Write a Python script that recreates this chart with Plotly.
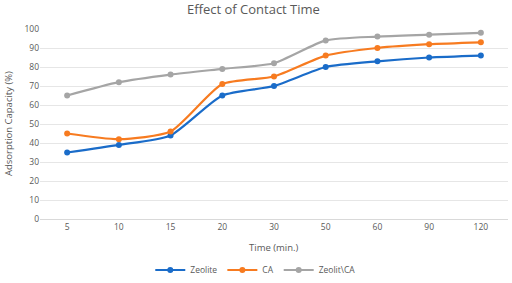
import plotly.graph_objects as go

categories = ["5", "10", "15", "20", "30", "50", "60", "90", "120"]
zeolite = [35, 39, 44, 65, 70, 80, 83, 85, 86]
ca = [45, 42, 46, 71, 75, 86, 90, 92, 93]
zeolit_ca = [65, 72, 76, 79, 82, 94, 96, 97, 98]

series = [
    ("Zeolite", zeolite, "#1A6CC9"),
    ("CA", ca, "#F77B20"),
    ("Zeolit\\CA", zeolit_ca, "#A5A5A5"),
]

fig = go.Figure()
for name, vals, color in series:
    fig.add_trace(go.Scatter(
        x=categories, y=vals, name=name, mode="lines+markers",
        line=dict(color=color, width=2.2, shape="spline", smoothing=0.6),
        marker=dict(color=color, size=6),
    ))

font = "Open Sans, Calibri, sans-serif"
W, H = 512, 283
L, R, T, B = 40, 4, 29, 64
fig.update_layout(
    width=W, height=H,
    margin=dict(l=L, r=R, t=T, b=B, autoexpand=False),
    paper_bgcolor="white", plot_bgcolor="white",
    title=dict(text="Effect of Contact Time", x=0.495, xanchor="center",
               xref="container", y=1 - 9 / H, yanchor="middle",
               font=dict(family=font, size=13, color="#595959")),
    font=dict(family=font, size=9, color="#595959"),
    xaxis=dict(type="category", showgrid=False, showline=True, linecolor="#D9D9D9",
               ticks="", automargin=False, tickfont=dict(size=8.5, color="#595959")),
    yaxis=dict(range=[0, 100], dtick=10, showgrid=True, gridcolor="#E6E6E6", zeroline=False,
               showline=False, ticks="", automargin=False,
               tickfont=dict(size=8.5, color="#595959")),
    legend=dict(orientation="h", x=0.46, xanchor="center", y=-(270 - (H - B)) / (H - T - B),
                yanchor="middle", font=dict(size=8.5, color="#595959"), itemwidth=30),
    showlegend=True,
    annotations=[
        dict(text="Time (min.)", xref="paper", yref="paper", x=0.5,
             y=-(247 - (H - B)) / (H - T - B), xanchor="center", yanchor="middle",
             showarrow=False, font=dict(size=9.5, color="#595959")),
        dict(text="Adsorption Capacity (%)", xref="paper", yref="paper",
             x=-(L - 8) / (W - L - R), y=0.5, xanchor="center", yanchor="middle",
             textangle=-90, showarrow=False, font=dict(size=9.5, color="#595959")),
    ],
)

fig.write_html("out.html", config={"displayModeBar": False},
               post_script="document.body.style.margin='0';document.body.style.overflow='hidden';")
